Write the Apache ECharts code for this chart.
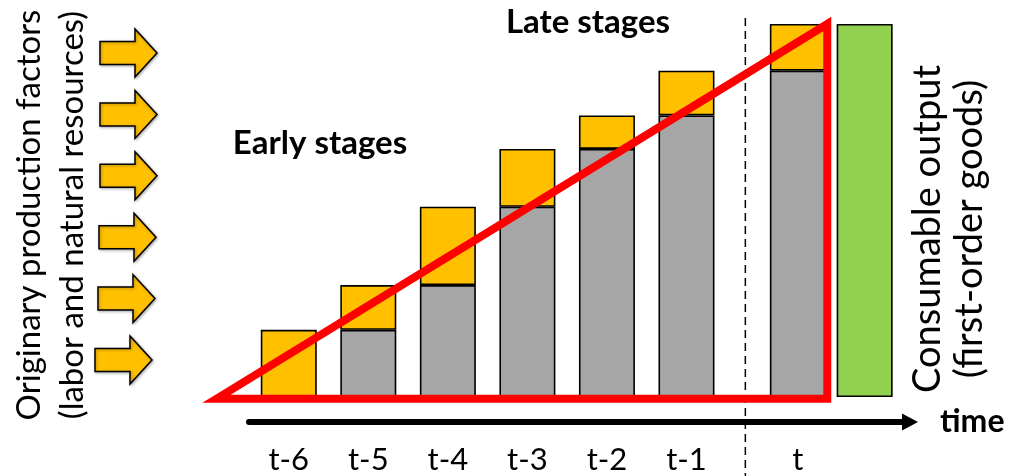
<!DOCTYPE html>
<html><head><meta charset="utf-8">
<script src="https://cdn.jsdelivr.net/npm/echarts@6/dist/echarts.min.js"></script>
<style>html,body{margin:0;padding:0;background:#fff}#c{width:1011px;height:476px}</style>
</head><body><div id="c"></div>
<script>
// ---- data ----
const stageLabels = ['t-6', 't-5', 't-4', 't-3', 't-2', 't-1', 't'];
const stageTime   = [1, 2, 3, 4, 5, 6, 7.4];              // position on the time line
const inherited   = [0, 18, 30, 51, 66.5, 75.5, 87.5];     // grey part (goods from earlier stages)
const added       = [18, 12, 21, 15.5, 9, 12, 12.5];       // orange part (originary factors added)
const outputTime  = [8.24];
const outputValue = [100];                                  // consumable output (green)
const triangleTime  = [0.09, 7.77, 7.77];
const triangleValue = [-0.5, 100, -0.5];
const dividerTime   = [6.74, 6.74];
const dividerValue  = [101.6, -21.5];

const FONT = 'Lato';
const chart = echarts.init(document.getElementById('c'), null, {renderer: 'canvas'});

const barBorder = {borderColor: '#000', borderWidth: 1.6};

// decorative input arrows
const arrowShape = [[0,-11.5],[35,-11.5],[35,-24],[57,0],[35,24],[35,11.5],[0,11.5]];
const arrowLeft = [100, 100, 100, 99, 98, 95];
const arrowGraphics = arrowLeft.map((lx, i) => ({
  type: 'polygon', x: lx, y: 53 + i * 61.4,
  shape: {points: arrowShape},
  style: {fill: '#FFC000', stroke: '#000', lineWidth: 1.5, shadowBlur: 3, shadowColor: 'rgba(0,0,0,0.3)', shadowOffsetX: 1, shadowOffsetY: 1}
}));

const option = {
  backgroundColor: '#fff',
  animation: false,
  grid: {left: 249, right: 101, top: 24, bottom: 79},
  xAxis: {
    type: 'value', min: 0.5, max: 8.81, offset: 25,
    splitLine: {show: false},
    axisLine: {show: true, onZero: false, lineStyle: {color: '#000', width: 6}, symbol: ['none', 'triangle'], symbolSize: [17, 16]},
    axisTick: {show: false},
    axisLabel: {
      customValues: stageTime,
      formatter: v => { const i = stageTime.indexOf(v); return i >= 0 ? stageLabels[i] : ''; },
      fontSize: 31, fontFamily: FONT, color: '#000', margin: 22
    },
    name: 'time', nameLocation: 'end', nameGap: 30,
    nameTextStyle: {fontSize: 32, fontWeight: 'bold', fontFamily: FONT, color: '#000', verticalAlign: 'middle', padding: [6, 0, 0, 0]}
  },
  yAxis: {type: 'value', min: 0, max: 100, show: false},
  series: [
    {type: 'bar', name: 'inherited', stack: 's', barWidth: 56, barGap: '-100%',
     encode: {x: 1, y: 0},
     data: stageTime.map((x, i) => [inherited[i], x]),
     itemStyle: Object.assign({color: '#A6A6A6'}, barBorder)},
    {type: 'bar', name: 'added', stack: 's', barWidth: 56, barGap: '-100%',
     encode: {x: 1, y: 0},
     data: stageTime.map((x, i) => [added[i], x]),
     itemStyle: Object.assign({color: '#FFC000'}, barBorder)},
    {type: 'bar', name: 'output', barWidth: 56, barGap: '-100%',
     encode: {x: 1, y: 0},
     data: outputTime.map((x, i) => [outputValue[i], x]),
     itemStyle: Object.assign({color: '#92D050'}, barBorder)},
    {type: 'line', name: 'divider', clip: false, symbol: 'none', z: 4,
     data: dividerTime.map((x, i) => [x, dividerValue[i]]),
     lineStyle: {color: '#000', width: 1.5, type: [8, 5]}},
    {type: 'custom', name: 'triangle', clip: false, z: 6,
     data: triangleTime.map((x, i) => [x, triangleValue[i]]),
     renderItem: (params, api) => {
       if (params.dataIndex !== 0) return null;
       const pts = triangleTime.map((x, i) => api.coord([x, triangleValue[i]]));
       return {type: 'polygon', shape: {points: pts},
               style: {fill: null, stroke: '#FF0000', lineWidth: 8, lineJoin: 'miter', miterLimit: 10}};
     }}
  ],
  graphic: arrowGraphics.concat([
    {type: 'text', x: 51, y: 215, rotation: Math.PI / 2,
     style: {text: 'Originary production factors\n(labor and natural resources)', fontSize: 33, fontFamily: FONT,
             fill: '#000', align: 'center', verticalAlign: 'middle', lineHeight: 43}},
    {type: 'text', x: 949, y: 229, rotation: Math.PI / 2,
     style: {text: 'Consumable output\n(first-order goods)', fontSize: 38, fontFamily: FONT,
             fill: '#000', align: 'center', verticalAlign: 'middle', lineHeight: 42}},
    {type: 'text', x: 320, y: 143,
     style: {text: 'Early stages', fontSize: 33, fontWeight: 'bold', fontFamily: FONT, fill: '#000', align: 'center', verticalAlign: 'middle'}},
    {type: 'text', x: 588, y: 22,
     style: {text: 'Late stages', fontSize: 33, fontWeight: 'bold', fontFamily: FONT, fill: '#000', align: 'center', verticalAlign: 'middle'}}
  ])
};
chart.setOption(option);
</script>
</body></html>
